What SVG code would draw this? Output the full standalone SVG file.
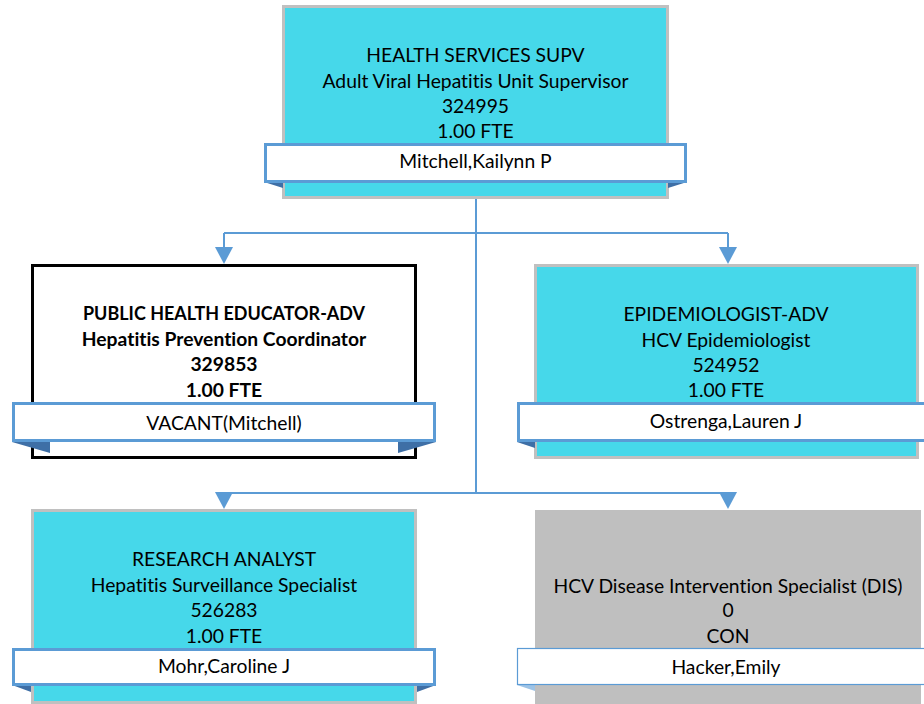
<svg xmlns="http://www.w3.org/2000/svg" width="924" height="704" viewBox="0 0 924 704">
<style>
.t{font-family:Lato,"Liberation Sans",sans-serif;font-size:19.3px;fill:#000;text-anchor:middle;font-variant-ligatures:none;font-feature-settings:"liga" 0}
.b{font-weight:bold}
.cy{fill:#46D8EA;stroke:#C0C0C0;stroke-width:3}
.bar{fill:#fff;stroke:#5B9BD5;stroke-width:3}
.fold{fill:#3E6FA6}
.con{fill:none;stroke:#5B9BD5;stroke-width:2}
.ah{fill:#5B9BD5}
</style>
<rect width="924" height="704" fill="#fff"/>
<g id="connectors">
<path class="con" d="M476 199V493M224 233H728M224 233V250M728 233V250M224 493H728"/>
<polygon class="ah" points="215,247 233,247 224,264"/>
<polygon class="ah" points="719,247 737,247 728,264"/>
<polygon class="ah" points="215,492 233,492 224,509"/>
<polygon class="ah" points="719,492 737,492 728,509"/>
</g>
<g id="n1">
<rect class="cy" x="283.5" y="6.5" width="384" height="191"/>
<polygon class="fold" points="264,182 283,188 283,182"/>
<polygon class="fold" points="687,182 668,188 668,182"/>
<rect class="bar" x="265.5" y="144.5" width="420" height="37"/>
<text class="t" x="475.5" y="62">HEALTH SERVICES SUPV</text>
<text class="t" x="475.5" y="87.5">Adult Viral Hepatitis Unit Supervisor</text>
<text class="t" x="475.5" y="112.5">324995</text>
<text class="t" x="475.5" y="138">1.00 FTE</text>
<text class="t" x="475.5" y="168">Mitchell,Kailynn P</text>
</g>
<g id="n2">
<rect x="32.5" y="265.5" width="383" height="192" fill="#fff" stroke="#000" stroke-width="3"/>
<polygon class="fold" points="12,442 50,453 50,442"/>
<polygon class="fold" points="436,442 398,453 398,442"/>
<rect class="bar" x="13.5" y="403.5" width="421" height="37"/>
<text class="t b" x="224" y="320" textLength="282" lengthAdjust="spacingAndGlyphs">PUBLIC HEALTH EDUCATOR-ADV</text>
<text class="t b" x="224" y="346">Hepatitis Prevention Coordinator</text>
<text class="t b" x="224" y="371">329853</text>
<text class="t b" x="224" y="397">1.00 FTE</text>
<text class="t" x="224" y="430">VACANT(Mitchell)</text>
</g>
<g id="n3">
<rect class="cy" x="535.5" y="265.5" width="382" height="192"/>
<polygon class="fold" points="517,442 535,448 535,442"/>
<rect class="bar" x="518.5" y="403.5" width="420" height="37"/>
<text class="t" x="726" y="321">EPIDEMIOLOGIST-ADV</text>
<text class="t" x="726" y="347">HCV Epidemiologist</text>
<text class="t" x="726" y="372">524952</text>
<text class="t" x="726" y="397">1.00 FTE</text>
<text class="t" x="726" y="428">Ostrenga,Lauren J</text>
</g>
<g id="n4">
<rect class="cy" x="32.5" y="510.5" width="383" height="192"/>
<polygon class="fold" points="12,685 31,692 31,685"/>
<polygon class="fold" points="436,685 417,692 417,685"/>
<rect class="bar" x="13.5" y="649.5" width="421" height="35"/>
<text class="t" x="224" y="566">RESEARCH ANALYST</text>
<text class="t" x="224" y="592">Hepatitis Surveillance Specialist</text>
<text class="t" x="224" y="617">526283</text>
<text class="t" x="224" y="643">1.00 FTE</text>
<text class="t" x="224" y="673">Mohr,Caroline J</text>
</g>
<g id="n5">
<rect x="535" y="510" width="386" height="194" fill="#BFBFBF"/>
<polygon points="517,685 535,691 535,685" fill="#9DC3E6"/>
<rect x="517.5" y="648.5" width="420" height="36" fill="#fff" stroke="#5B9BD5" stroke-width="1.2"/>
<text class="t" x="728" y="593">HCV Disease Intervention Specialist (DIS)</text>
<text class="t" x="728" y="617">0</text>
<text class="t" x="728" y="643">CON</text>
<text class="t" x="726" y="674">Hacker,Emily</text>
</g>
</svg>
